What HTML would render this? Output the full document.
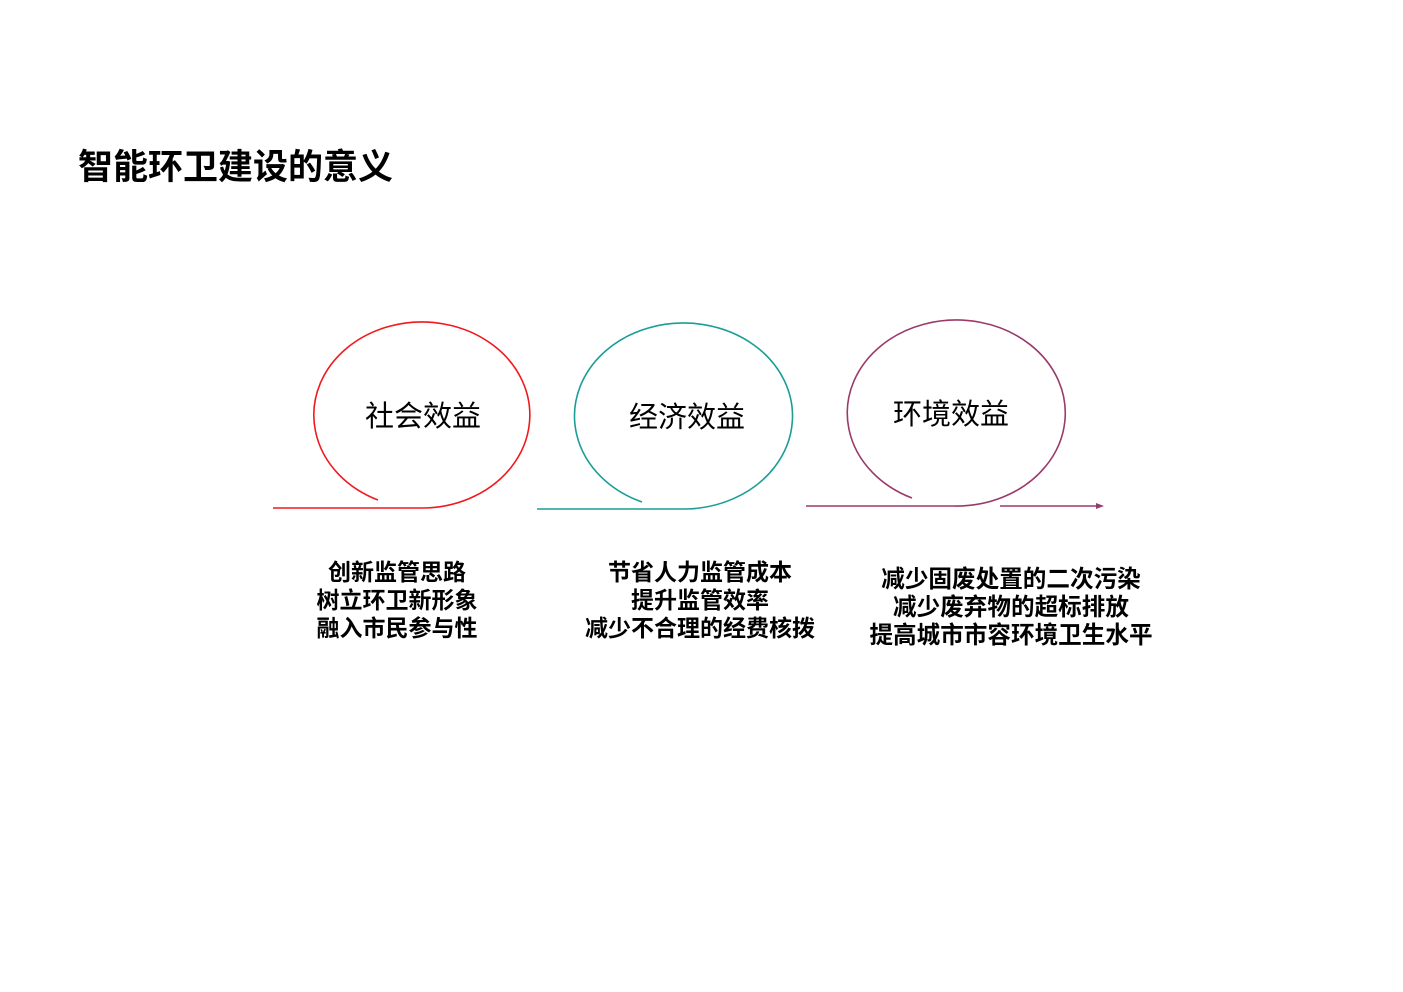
<!DOCTYPE html>
<html><head><meta charset="utf-8"><style>
body{margin:0;width:1403px;height:992px;background:#fff;position:relative;overflow:hidden;font-family:"Liberation Sans","Noto Sans CJK SC",sans-serif;}
.t{position:absolute;white-space:nowrap;line-height:1;color:#000}
.c{transform:translateX(-50%);text-align:center}
.b{font-weight:bold;font-size:23px;line-height:28px}
</style></head><body>
<div class="t" style="left:78px;top:150px;font-size:35px;font-weight:bold;">智能环卫建设的意义</div>
<svg width="1403" height="992" style="position:absolute;left:0;top:0">
<path d="M273,508 L421,508 A108,93 0 1 0 378,500" fill="none" stroke="#f0191e" stroke-width="1.6"/>
<path d="M537,509 L685,509 A109,93 0 1 0 642,502" fill="none" stroke="#1a9e96" stroke-width="1.6"/>
<path d="M806,506 L954,506 A109,93 0 1 0 912,498" fill="none" stroke="#9a3a6a" stroke-width="1.6"/>
<line x1="1000" y1="506" x2="1099" y2="506" stroke="#9a3a6a" stroke-width="1.6"/>
<polygon points="1104,506 1096,503 1096,509" fill="#9a3a6a"/>
</svg>
<div class="t c" style="left:423px;top:403px;font-size:29px;">社会效益</div>
<div class="t c" style="left:687px;top:404px;font-size:29px;">经济效益</div>
<div class="t c" style="left:951px;top:401px;font-size:29px;">环境效益</div>
<div class="t c b" style="left:397px;top:558px;">创新监管思路<br>树立环卫新形象<br>融入市民参与性</div>
<div class="t c b" style="left:700px;top:558px;">节省人力监管成本<br>提升监管效率<br>减少不合理的经费核拨</div>
<div class="t c b" style="left:1011px;top:566px;font-size:23.6px;">减少固废处置的二次污染<br>减少废弃物的超标排放<br>提高城市市容环境卫生水平</div>
</body></html>
